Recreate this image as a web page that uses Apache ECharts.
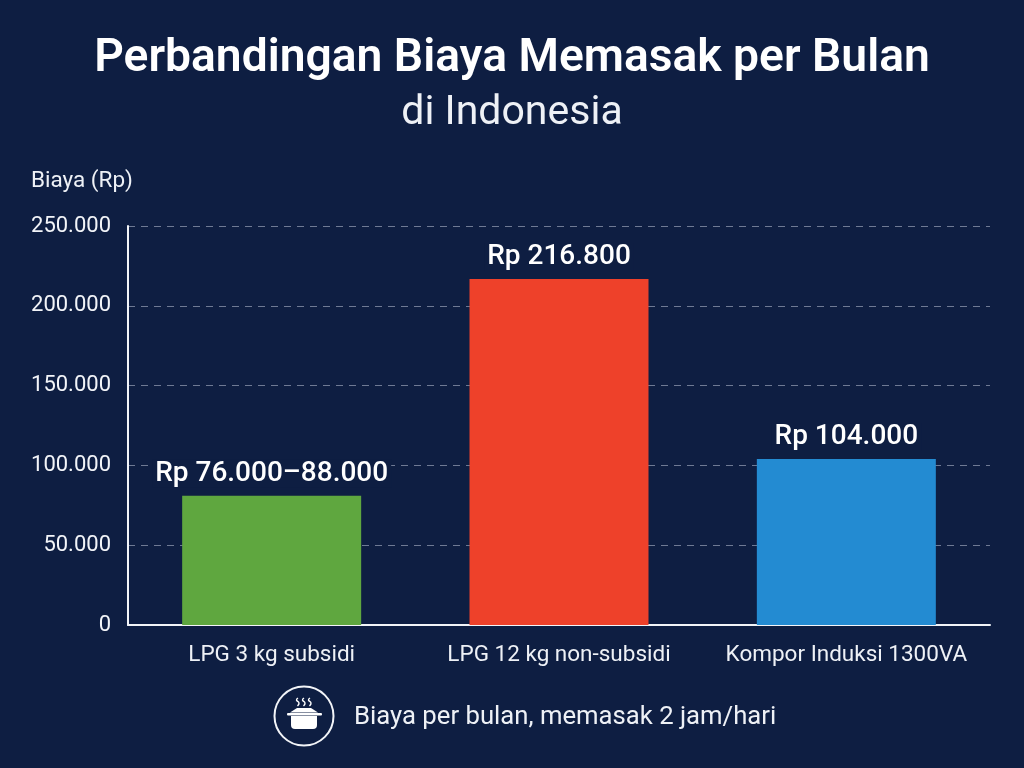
<!DOCTYPE html>
<html>
<head>
<meta charset="utf-8">
<style>
html, body { margin: 0; padding: 0; background: #0e1e42; }
#chart { width: 1024px; height: 768px; }
</style>
<script src="https://cdn.jsdelivr.net/npm/echarts@6/dist/echarts.min.js"></script>
</head>
<body>
<div id="chart"></div>
<script>
var categories = ['LPG 3 kg subsidi', 'LPG 12 kg non-subsidi', 'Kompor Induksi 1300VA'];
var values = [81000, 216800, 104000];
var valueLabels = ['Rp 76.000–88.000', 'Rp 216.800', 'Rp 104.000'];
var barColors = ['#5fa73f', '#ee412a', '#238bd2'];
var titleText = 'Perbandingan Biaya Memasak per Bulan';
var subtitleText = 'di Indonesia';
var axisName = 'Biaya (Rp)';
var footerText = 'Biaya per bulan, memasak 2 jam/hari';
var FONT = 'Roboto';

var chart = echarts.init(document.getElementById('chart'));

function tick_format(v) {
    // titik sebagai pemisah ribuan
    return String(v).replace(/\B(?=(\d{3})+$)/g, '.');
}

function steam(x) {
    return {
        type: 'polyline',
        shape: { points: [[x, 698], [x - 1.5, 700], [x + 1, 703], [x - 0.5, 706]], smooth: 0.5 },
        style: { fill: null, stroke: '#ffffff', lineWidth: 1.4 }
    };
}

var series_data = [];
for (let index = 0; index < values.length; index++) {
    series_data.push({
        value: values[index],
        itemStyle: { color: barColors[index] },
        label: { formatter: valueLabels[index] }
    });
}

chart.setOption({
    animation: false,
    backgroundColor: '#0e1e42',
    textStyle: { fontFamily: FONT },
    title: [{
        text: titleText,
        left: 'center',
        top: 31,
        textStyle: { color: '#ffffff', fontFamily: FONT, fontSize: 46.2, fontWeight: 600 }
    }, {
        text: subtitleText,
        left: 'center',
        top: 88,
        textStyle: { color: '#eef1f6', fontFamily: FONT, fontSize: 41, fontWeight: 400 }
    }],
    grid: { left: 128, right: 34, top: 226, bottom: 143 },
    xAxis: {
        type: 'category',
        data: categories,
        axisLine: { lineStyle: { color: '#f2f4f8', width: 2 } },
        axisTick: { show: false },
        axisLabel: { color: '#eef1f6', fontFamily: FONT, fontSize: 22.5, margin: 19, interval: 0 }
    },
    yAxis: {
        type: 'value',
        min: 0,
        max: 250000,
        interval: 50000,
        name: axisName,
        nameLocation: 'end',
        nameGap: 33,
        nameTextStyle: {
            color: '#eef1f6', fontFamily: FONT, fontSize: 22.5, align: 'left', padding: [0, 0, 0, -97]
        },
        axisLine: { show: true, lineStyle: { color: '#f2f4f8', width: 2 } },
        axisTick: { show: false },
        axisLabel: { color: '#f2f4f8', fontFamily: FONT, fontSize: 22, margin: 17, formatter: tick_format },
        splitLine: { lineStyle: { color: '#6f7a94', type: [7, 6], width: 1 } }
    },
    series: [{
        type: 'bar',
        data: series_data,
        barWidth: 179,
        label: {
            show: true,
            position: 'top',
            distance: 8,
            color: '#ffffff',
            fontFamily: FONT,
            fontSize: 28,
            fontWeight: 500,
            backgroundColor: '#0e1e42',
            padding: [0, 3]
        }
    }],
    graphic: [{
        type: 'circle',
        shape: { cx: 304, cy: 716, r: 29.5 },
        style: { fill: 'transparent', stroke: '#f2f4f8', lineWidth: 2 }
    }, {
        // panci: badan, bibir, tutup, uap
        type: 'rect',
        shape: { x: 291, y: 716, width: 26, height: 13, r: [0, 0, 4, 4] },
        style: { fill: '#ffffff' }
    }, {
        type: 'rect',
        shape: { x: 287, y: 713, width: 35, height: 2.5, r: 1 },
        style: { fill: '#ffffff' }
    }, {
        type: 'polygon',
        shape: { points: [[290, 712.5], [297, 708], [311, 708], [318, 712.5]] },
        style: { fill: '#ffffff' }
    }, steam(298), steam(304), steam(310), {
        type: 'text',
        left: 354,
        top: 705,
        style: { text: footerText, fill: '#eef1f6', font: '400 25.7px ' + FONT }
    }]
});
</script>
</body>
</html>
